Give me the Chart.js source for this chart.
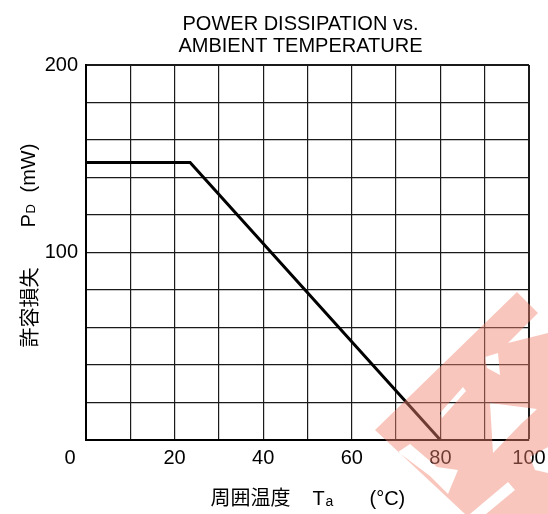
<!DOCTYPE html>
<html>
<head>
<meta charset="utf-8">
<script src="https://cdn.jsdelivr.net/npm/chart.js@4"></script>
<style>
  html, body { margin: 0; padding: 0; background: #fff; }
  #wrap { width: 548px; height: 514px; position: relative; }
</style>
</head>
<body>
<div id="wrap"><canvas id="pdChart"></canvas></div>
<script>
// ── DATA ──
const tempC    = [0, 23.5, 80];     // Ta (°C)
const powerMW  = [148, 148, 0];     // PD (mW)
const xLabeled = [20, 40, 60, 80, 100];
const yLabeled = [100, 200];
const titleLines = ['POWER DISSIPATION vs.', 'AMBIENT TEMPERATURE'];

const LATIN = '"Liberation Sans", Arial, Helvetica, sans-serif';
const CJK = '"Noto Sans CJK JP", "Noto Sans CJK SC", sans-serif';

// stamp in the lower right corner of the scan (not data)
const STAMP = [
  [[517,292],[538,313],[508,343],[548,333],[548,514],[465,514],[375,430]],
  [[398,452],[410,444],[437,467],[458,470],[448,494],[430,476]],
  [[470,514],[508,482],[515,490],[486,514]],
  [[485,357],[498,353],[500,375],[487,368]],
  [[440,413],[463,387],[466,391],[442,418]],
  [[490,403],[537,409],[520,425],[493,453]],
  [[530,457],[548,447],[548,473],[535,470]]
];

// ── TEXT + STAMP ──
const decor = {
  id: 'decor',
  afterDraw(chart) {
    const { ctx, chartArea: a, scales } = chart;
    const cx = (a.left + a.right) / 2;
    ctx.save();
    ctx.fillStyle = '#000';
    ctx.textBaseline = 'alphabetic';

    // title
    ctx.textAlign = 'center';
    ctx.font = `20px ${LATIN}`;
    ctx.fillText(titleLines[0], cx - 7, 30);
    ctx.fillText(titleLines[1], cx - 7, 52);

    // corner "0"
    ctx.font = `20px ${LATIN}`;
    ctx.fillText('0', a.left - 16, scales.x.top + 24);

    // x title: 周囲温度  Ta  (°C)
    ctx.textAlign = 'left';
    const by = 505;
    ctx.font = `20px ${CJK}`;
    ctx.fillText('周囲温度', cx - 97, by);
    ctx.font = `20px ${LATIN}`;
    ctx.fillText('T', cx + 5, by);
    ctx.font = `14px ${LATIN}`;
    ctx.fillText('a', cx + 18, by + 1);
    ctx.font = `20px ${LATIN}`;
    ctx.fillText('(°C)', cx + 62, by);

    // y title, rotated: 許容損失  PD  (mW)
    const cy = (a.top + a.bottom) / 2;
    ctx.translate(30, cy);
    ctx.rotate(-Math.PI / 2);
    ctx.font = `20px ${CJK}`;
    ctx.fillText('許容損失', -95, 7);
    ctx.font = `20px ${LATIN}`;
    ctx.fillText('P', 25, 5);
    ctx.font = `13px ${LATIN}`;
    ctx.fillText('D', 39, 5);
    ctx.font = `20px ${LATIN}`;
    ctx.fillText('(mW)', 60, 5);
    ctx.restore();

    // stamp
    ctx.save();
    ctx.beginPath();
    STAMP.forEach(poly => {
      poly.forEach(([px, py], i) => i ? ctx.lineTo(px, py) : ctx.moveTo(px, py));
      ctx.closePath();
    });
    ctx.fillStyle = 'rgba(239,130,109,0.46)';
    ctx.fill('evenodd');
    ctx.restore();
  }
};

// ── CHART ──
const ctx = document.getElementById('pdChart').getContext('2d');
new Chart(ctx, {
  type: 'line',
  data: {
    datasets: [{
      data: tempC.map((t, i) => ({ x: t, y: powerMW[i] })),
      borderColor: '#000',
      borderWidth: 3,
      pointRadius: 0,
      tension: 0,
      fill: false
    }]
  },
  options: {
    responsive: true,
    maintainAspectRatio: false,
    animation: false,
    layout: { padding: { top: 65, right: 19, left: 0, bottom: 0 } },
    plugins: {
      legend: { display: false },
      title: { display: false },
      tooltip: { enabled: false }
    },
    scales: {
      x: {
        type: 'linear',
        min: 0,
        max: 100,
        grid: {
          color: '#1a1a1a',
          lineWidth: c => (c.tick && c.tick.value === 100 ? 2 : 1.2),
          drawTicks: false
        },
        border: { display: true, color: '#000', width: 2 },
        ticks: {
          stepSize: 10,
          padding: 6,
          maxRotation: 0,
          autoSkip: false,
          color: '#000',
          font: { family: LATIN, size: 20 },
          callback: v => (xLabeled.includes(v) ? String(v) : '')
        },
        afterFit: s => { s.height = 74; s.paddingLeft = 0; s.paddingRight = 0; }
      },
      y: {
        min: 0,
        max: 200,
        grid: {
          color: '#1a1a1a',
          lineWidth: c => (c.tick && c.tick.value === 200 ? 2 : 1.2),
          drawTicks: false
        },
        border: { display: true, color: '#000', width: 2 },
        ticks: {
          stepSize: 20,
          padding: 8,
          autoSkip: false,
          color: '#000',
          font: { family: LATIN, size: 20 },
          callback: v => (yLabeled.includes(v) ? String(v) : '')
        },
        afterFit: s => { s.width = 86; s.paddingTop = 0; s.paddingBottom = 0; }
      }
    }
  },
  plugins: [decor]
});
</script>
</body>
</html>
